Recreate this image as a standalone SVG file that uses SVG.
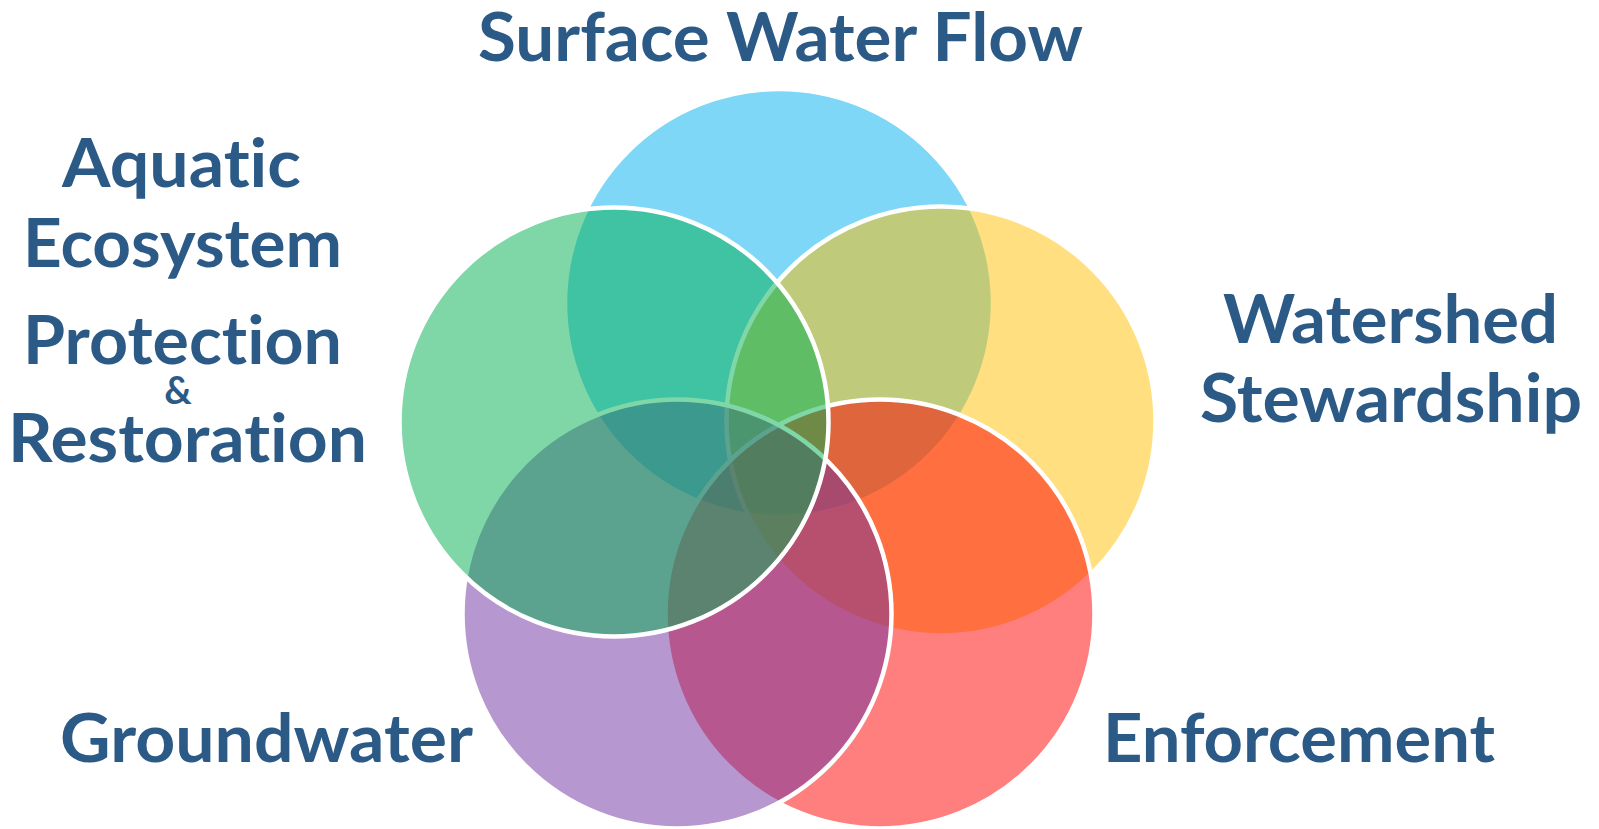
<svg xmlns="http://www.w3.org/2000/svg" width="1599" height="829" viewBox="0 0 1599 829">
<style>
.c{fill-opacity:0.5;stroke:#ffffff;stroke-width:4.5}
.lbl{font-family:Lato,"Open Sans","Liberation Sans",sans-serif;font-weight:700;fill:#2C5A87;font-size:67px;text-anchor:middle;font-variant-ligatures:none;font-feature-settings:"liga" 0,"clig" 0,"dlig" 0}
.amp{font-size:38px}
</style>
<rect width="1599" height="829" fill="#ffffff"/>
<g id="surface-water-flow">
<circle class="c" cx="779" cy="303" r="214" fill="#00B0F0"/>
<text class="lbl" x="780.5" y="61" textLength="605" lengthAdjust="spacingAndGlyphs">Surface Water Flow</text>
</g>
<g id="watershed-stewardship">
<circle class="c" cx="941" cy="421" r="214.5" fill="#FFC000"/>
<text class="lbl" x="1390.5" y="343" textLength="335" lengthAdjust="spacingAndGlyphs">Watershed</text>
<text class="lbl" x="1391" y="422" textLength="382" lengthAdjust="spacingAndGlyphs">Stewardship</text>
</g>
<g id="enforcement">
<circle class="c" cx="880" cy="614" r="214.5" fill="#FF0000"/>
<text class="lbl" x="1299" y="762" textLength="392" lengthAdjust="spacingAndGlyphs">Enforcement</text>
</g>
<g id="groundwater">
<circle class="c" cx="677" cy="614" r="214.5" fill="#7030A0"/>
<text class="lbl" x="266.5" y="762" textLength="413" lengthAdjust="spacingAndGlyphs">Groundwater</text>
</g>
<g id="aquatic-ecosystem">
<circle class="c" cx="614" cy="422" r="214.5" fill="#00B050"/>
<text class="lbl" x="181.5" y="187" textLength="239" lengthAdjust="spacingAndGlyphs">Aquatic</text>
<text class="lbl" x="182.5" y="267" textLength="319" lengthAdjust="spacingAndGlyphs">Ecosystem</text>
<text class="lbl" x="182.5" y="364" textLength="319" lengthAdjust="spacingAndGlyphs">Protection</text>
<text class="lbl amp" x="178" y="404">&amp;</text>
<text class="lbl" x="187.5" y="462" textLength="359" lengthAdjust="spacingAndGlyphs">Restoration</text>
</g>
</svg>
